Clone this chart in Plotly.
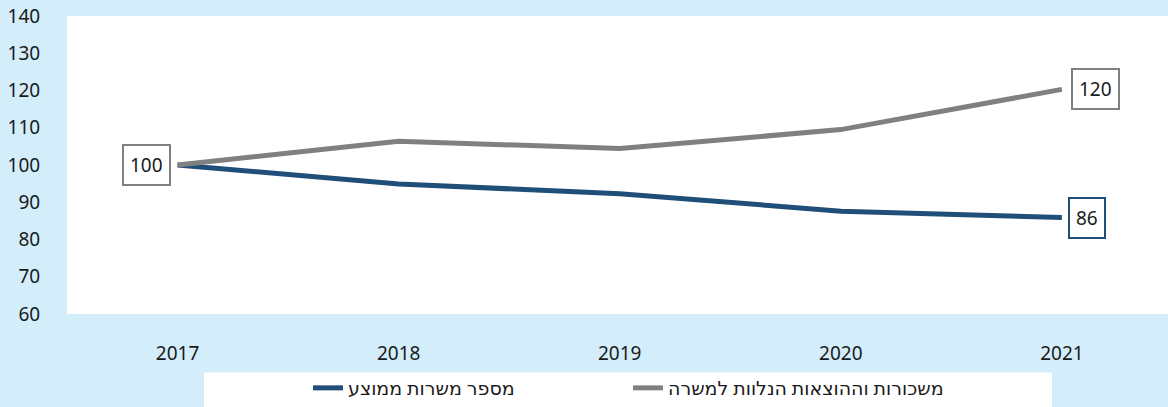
import plotly.graph_objects as go

years = ["2017", "2018", "2019", "2020", "2021"]
avg_positions = [100, 94.9, 92.3, 87.6, 85.9]
salary_per_position = [100, 106.4, 104.4, 109.5, 120.3]
series_names = ["מספר משרות ממוצע", "משכורות וההוצאות הנלוות למשרה"]
y_ticks = [60, 70, 80, 90, 100, 110, 120, 130, 140]

BG = "#D3EEFA"
BLUE = "#1F4E79"
GRAY = "#808080"
FONT = "Noto Sans, DejaVu Sans, sans-serif"

fig = go.Figure()
fig.add_trace(go.Scatter(x=years, y=avg_positions, mode="lines", name=series_names[0],
                         line=dict(color=BLUE, width=5)))
fig.add_trace(go.Scatter(x=years, y=salary_per_position, mode="lines", name=series_names[1],
                         line=dict(color=GRAY, width=5)))

first, last = 0, len(years) - 1
label_font = dict(size=19, color="#1a1a1a", family=FONT)
# data labels
fig.add_annotation(x=first, y=avg_positions[first], text=str(round(avg_positions[first])),
                   showarrow=False, xanchor="right", xshift=-7,
                   bgcolor="white", bordercolor=GRAY, borderwidth=2, borderpad=6, font=label_font)
fig.add_annotation(x=last, y=salary_per_position[last], text=str(round(salary_per_position[last])),
                   showarrow=False, xanchor="left", xshift=9,
                   bgcolor="white", bordercolor=GRAY, borderwidth=2, borderpad=6, font=label_font)
fig.add_annotation(x=last, y=avg_positions[last], text=str(round(avg_positions[last])),
                   showarrow=False, xanchor="left", xshift=6,
                   bgcolor="white", bordercolor=BLUE, borderwidth=2, borderpad=6, font=label_font)

# legend background box
fig.add_shape(type="rect", xref="paper", yref="paper",
              x0=(204 - 67) / 1101, x1=(1052 - 67) / 1101, y0=-0.32, y1=(316 - 375) / 300,
              fillcolor="white", line=dict(width=0), layer="below")

fig.update_layout(
    width=1168, height=407,
    margin=dict(l=67, r=0, t=16, b=91),
    paper_bgcolor=BG, plot_bgcolor="white",
    font=dict(family=FONT, size=19, color="#1a1a1a"),
    showlegend=True,
    legend=dict(orientation="h", x=(308 - 67) / 1101, xanchor="left",
                y=(316 - 391) / 300, yanchor="middle",
                bgcolor="rgba(0,0,0,0)", entrywidth=275, entrywidthmode="pixels",
                font=dict(size=19, family=FONT, color="#1a1a1a")),
    xaxis=dict(type="category", range=[-0.5, 4.48], showgrid=False, zeroline=False,
               showline=False, ticks="outside", ticklen=22, tickcolor="rgba(0,0,0,0)",
               tickfont=dict(size=19)),
    yaxis=dict(range=[60, 140], tickvals=y_ticks, showgrid=False, zeroline=False,
               showline=False, ticks="outside", ticklen=22, tickcolor="rgba(0,0,0,0)",
               tickfont=dict(size=19)),
)

fig.write_html("out.html", config={"displayModeBar": False},
               post_script="document.body.style.margin='0';")
